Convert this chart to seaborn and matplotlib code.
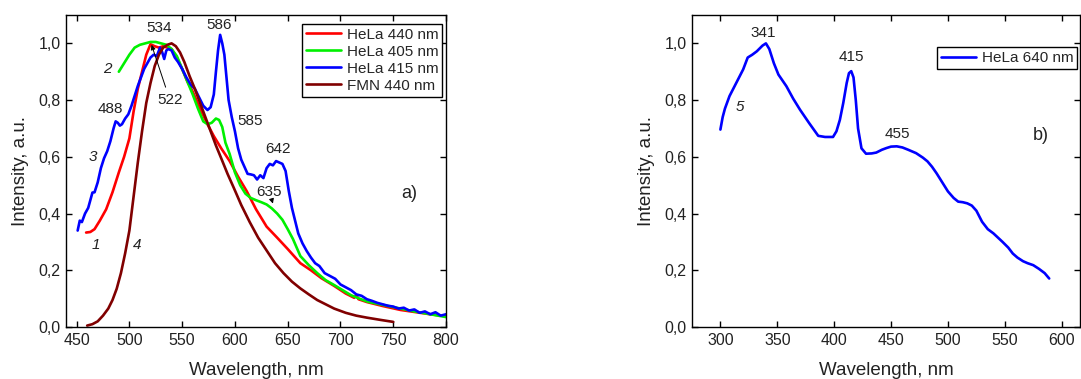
import matplotlib
matplotlib.use("Agg")
import matplotlib.pyplot as plt
import numpy as np
import pandas as pd
import seaborn as sns

# --- data ---
# panel a) HeLa 440 nm (curve 1)
wl_440 = [459, 463, 467, 472, 478, 484, 490, 495, 500, 504, 508, 512, 516, 520, 524, 528,
          532, 536, 540, 545, 550, 555, 560, 567, 574, 580, 587, 595, 603, 611, 620, 630,
          640, 650, 662, 672, 682, 694, 705, 713, 715, 717, 725, 740, 757, 770, 785, 800]
int_440 = [0.333, 0.335, 0.345, 0.375, 0.415, 0.475, 0.545, 0.600, 0.665, 0.760, 0.840, 0.900,
           0.960, 0.997, 0.990, 0.985, 0.990, 0.985, 0.980, 0.950, 0.910, 0.865, 0.830, 0.770,
           0.715, 0.673, 0.630, 0.585, 0.530, 0.480, 0.415, 0.354, 0.315, 0.275, 0.225, 0.200,
           0.172, 0.145, 0.118, 0.103, 0.113, 0.098, 0.088, 0.074, 0.060, 0.053, 0.045, 0.038]

# HeLa 405 nm (curve 2)
wl_405 = [490, 495, 500, 505, 510, 515, 520, 525, 530, 535, 540, 545, 550, 555, 560, 565,
          570, 574, 578, 582, 585, 588, 591, 595, 600, 605, 610, 615, 620, 625, 630, 635,
          640, 645, 650, 655, 662, 670, 678, 686, 694, 702, 710, 718, 726, 740, 757, 770,
          785, 800]
int_405 = [0.900, 0.930, 0.960, 0.985, 0.995, 1.000, 1.005, 1.005, 1.000, 0.995, 0.980, 0.955,
           0.910, 0.865, 0.820, 0.770, 0.725, 0.715, 0.720, 0.735, 0.730, 0.705, 0.650, 0.610,
           0.545, 0.500, 0.470, 0.455, 0.447, 0.440, 0.432, 0.418, 0.400, 0.378, 0.345, 0.310,
           0.250, 0.218, 0.190, 0.165, 0.148, 0.130, 0.112, 0.100, 0.089, 0.078, 0.065, 0.055,
           0.045, 0.035]

# HeLa 415 nm (curve 3)
wl_415 = [451, 453, 455, 458, 461, 465, 467, 470, 473, 476, 479, 482, 485, 487, 489, 491,
          493, 496, 499, 502, 505, 508, 511, 514, 517, 520, 523, 526, 529, 531, 533, 535,
          537, 540, 543, 546, 550, 554, 558, 562, 566, 570, 574, 577, 580, 582, 584, 586,
          588, 590, 592, 594, 597, 600, 603, 606, 609, 612, 615, 618, 621, 624, 627, 630,
          633, 636, 639, 642, 645, 648, 651, 654, 657, 660, 664, 668, 672, 676, 680, 685,
          690, 695, 700, 705, 710, 715, 720, 725, 730, 735, 740, 745, 750, 755, 760, 765,
          770, 775, 780, 785, 790, 795, 800]
int_415 = [0.340, 0.375, 0.370, 0.400, 0.420, 0.474, 0.475, 0.510, 0.560, 0.595, 0.620, 0.655,
           0.700, 0.725, 0.720, 0.710, 0.715, 0.735, 0.750, 0.780, 0.815, 0.850, 0.880, 0.910,
           0.930, 0.950, 0.960, 0.955, 0.985, 0.970, 0.945, 0.975, 0.980, 0.975, 0.950, 0.935,
           0.910, 0.880, 0.855, 0.840, 0.810, 0.780, 0.765, 0.775, 0.820, 0.900, 0.975, 1.030,
           1.000, 0.960, 0.880, 0.800, 0.740, 0.690, 0.630, 0.590, 0.565, 0.540, 0.538, 0.535,
           0.520, 0.535, 0.525, 0.560, 0.575, 0.570, 0.585, 0.580, 0.575, 0.550, 0.480, 0.420,
           0.375, 0.330, 0.295, 0.268, 0.245, 0.225, 0.215, 0.190, 0.180, 0.170, 0.150, 0.140,
           0.130, 0.115, 0.110, 0.098, 0.092, 0.085, 0.080, 0.075, 0.072, 0.065, 0.068, 0.058,
           0.062, 0.050, 0.055, 0.045, 0.052, 0.040, 0.045]

# FMN 440 nm (curve 4)
wl_fmn = [460, 465, 470, 475, 480, 484, 488, 492, 496, 500, 504, 508, 512, 516, 520, 524,
          528, 532, 536, 540, 544, 548, 552, 557, 562, 567, 572, 577, 582, 587, 593, 599,
          606, 614, 622, 630, 638, 646, 654, 662, 670, 678, 686, 694, 705, 715, 725, 738, 750]
int_fmn = [0.005, 0.010, 0.020, 0.040, 0.065, 0.095, 0.135, 0.190, 0.260, 0.340, 0.460, 0.580,
           0.690, 0.790, 0.860, 0.920, 0.960, 0.985, 0.995, 1.000, 0.990, 0.968, 0.935, 0.885,
           0.840, 0.790, 0.740, 0.690, 0.640, 0.595, 0.540, 0.490, 0.430, 0.370, 0.315, 0.270,
           0.225, 0.190, 0.160, 0.136, 0.115, 0.095, 0.080, 0.065, 0.050, 0.040, 0.033, 0.025,
           0.018]

# panel b) HeLa 640 nm (curve 5)
wl_640 = [300, 302, 304, 308, 314, 320, 324, 328, 332, 337, 340, 343, 347, 351, 358, 364,
          370, 378, 386, 392, 399, 402, 405, 408, 411, 413, 415, 417, 419, 421, 424, 428,
          433, 437, 442, 446, 450, 455, 460, 465, 472, 478, 482, 486, 490, 495, 500, 505,
          509, 513, 517, 521, 525, 530, 535, 540, 544, 548, 553, 557, 561, 566, 570, 575,
          580, 585, 589]
int_640 = [0.696, 0.740, 0.770, 0.814, 0.861, 0.908, 0.950, 0.960, 0.972, 0.992, 1.000, 0.980,
           0.930, 0.890, 0.849, 0.805, 0.766, 0.719, 0.674, 0.670, 0.670, 0.690, 0.730, 0.790,
           0.860, 0.895, 0.902, 0.880, 0.800, 0.700, 0.630, 0.611, 0.612, 0.615, 0.625, 0.631,
           0.636, 0.637, 0.633, 0.625, 0.613, 0.597, 0.584, 0.565, 0.542, 0.510, 0.478, 0.455,
           0.442, 0.440, 0.436, 0.428, 0.410, 0.371, 0.345, 0.330, 0.315, 0.300, 0.280, 0.259,
           0.245, 0.232, 0.225, 0.218, 0.205, 0.190, 0.171]

labels_a = ["HeLa 440 nm", "HeLa 405 nm", "HeLa 415 nm", "FMN 440 nm"]
colors_a = ["#ff0000", "#00f000", "#0000ff", "#800000"]
label_b = "HeLa 640 nm"
color_b = "#0000ff"

y_ticks = [0.0, 0.2, 0.4, 0.6, 0.8, 1.0]
y_ticklabels = ["0,0", "0,2", "0,4", "0,6", "0,8", "1,0"]
x_ticks_a = [450, 500, 550, 600, 650, 700, 750, 800]
x_ticks_b = [300, 350, 400, 450, 500, 550, 600]

df_a = pd.concat([
    pd.DataFrame({"wl": w, "val": v, "sample": s})
    for w, v, s in zip([wl_440, wl_405, wl_415, wl_fmn],
                       [int_440, int_405, int_415, int_fmn], labels_a)
], ignore_index=True)
df_b = pd.DataFrame({"wl": wl_640, "val": int_640, "sample": label_b})

sns.set_style("ticks")
plt.rcParams["font.family"] = ["Liberation Sans", "DejaVu Sans"]
plt.rcParams["axes.linewidth"] = 1.0

fig = plt.figure(figsize=(10.81, 3.79), dpi=100)
ax1 = fig.add_axes([0.0611, 0.1372, 0.3515, 0.8232])
ax2 = fig.add_axes([0.6401, 0.1372, 0.3589, 0.8232])

sns.lineplot(data=df_a, x="wl", y="val", hue="sample", hue_order=labels_a,
             palette=colors_a, estimator=None, sort=False, lw=1.9, ax=ax1)
sns.lineplot(data=df_b, x="wl", y="val", hue="sample", palette=[color_b],
             estimator=None, sort=False, lw=1.9, ax=ax2)

for ax, xt, xl in [(ax1, x_ticks_a, (440, 800)), (ax2, x_ticks_b, (275, 616))]:
    ax.set_xlim(*xl)
    ax.set_ylim(0, 1.1)
    ax.set_xticks(xt)
    ax.set_yticks(y_ticks)
    ax.set_yticklabels(y_ticklabels)
    ax.tick_params(direction="in", top=True, right=True, length=4, width=1,
                   labelsize=11.5, pad=4, colors="black")
    ax.tick_params(labelcolor="#222222")
    for sp in ax.spines.values():
        sp.set_color("black")
        sp.set_linewidth(1.0)
    ax.set_xlabel("Wavelength, nm", fontsize=13.5, labelpad=10.5, color="#222222")
    ax.set_ylabel("Intensity, a.u.", fontsize=13.5, labelpad=6.5, color="#222222")

leg_kw = dict(frameon=True, fancybox=False, edgecolor="black", framealpha=1,
              fontsize=11, borderpad=0.25, labelspacing=0.2, handlelength=2.3,
              handletextpad=0.4, borderaxespad=0)
h, l = ax1.get_legend_handles_labels()
leg1 = ax1.legend(h, l, loc="upper right", bbox_to_anchor=(0.99, 0.972), **leg_kw)
h, l = ax2.get_legend_handles_labels()
leg2 = ax2.legend(h, l, loc="upper right", bbox_to_anchor=(0.993, 0.897), **leg_kw)
for leg in (leg1, leg2):
    leg.get_frame().set_linewidth(1.0)

# annotations panel a)
tk = dict(fontsize=11, ha="center", va="center", color="#222222")
ax1.text(528, 1.054, "534", **tk)
ax1.text(585, 1.066, "586", **tk)
ax1.text(482, 0.768, "488", **tk)
ax1.text(614.5, 0.725, "585", **tk)
ax1.text(641, 0.626, "642", **tk)
ax1.annotate("522", xy=(521, 0.995), xytext=(538.4, 0.80), textcoords="data",
             arrowprops=dict(arrowstyle="-|>", color="black", lw=0.7,
                             mutation_scale=7, shrinkA=2, shrinkB=0), **tk)
ax1.annotate("635", xy=(636, 0.435), xytext=(632.6, 0.477), textcoords="data",
             arrowprops=dict(arrowstyle="-|>", color="black", lw=0.7,
                             mutation_scale=7, shrinkA=0, shrinkB=0), **tk)
ax1.text(764.7, 0.47, "a)", fontsize=13, ha="center", va="center", color="#222222")
ik = dict(fontsize=11, ha="center", va="center", style="italic", color="#222222")
ax1.text(468, 0.29, "1", **ik)
ax1.text(479.5, 0.909, "2", **ik)
ax1.text(465.5, 0.599, "3", **ik)
ax1.text(507, 0.29, "4", **ik)

# annotations panel b)
ax2.text(337.4, 1.038, "341", **tk)
ax2.text(415.2, 0.953, "415", **tk)
ax2.text(455.3, 0.679, "455", **tk)
ax2.text(317.5, 0.776, "5", **ik)
ax2.text(581.6, 0.675, "b)", fontsize=13, ha="center", va="center", color="#222222")

fig.savefig("out.png", dpi=100)
